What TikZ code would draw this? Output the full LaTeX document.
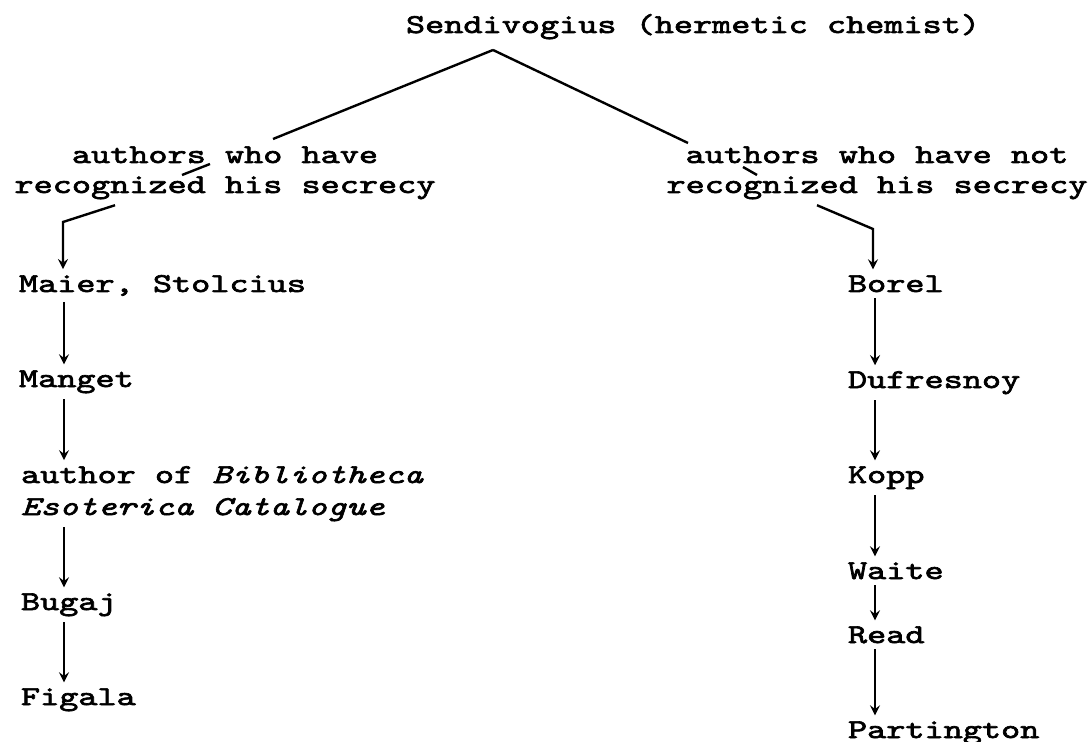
\documentclass[tikz,border=0pt]{standalone}
\usepackage{fontspec}
\setmainfont{lmmono10-regular}[Extension=.otf,ItalicFont=lmmono10-italic,FakeStretch=1.34,FakeBold=2.5]
\usepackage{tikz}

\tikzset{
  author/.style={inner sep=0pt,outer sep=3pt,anchor=base west,
    font=\fontsize{13.6}{16}\selectfont},
  group/.style={inner sep=0pt,outer sep=3pt,align=center,anchor=base,
    font=\fontsize{13.6}{15}\selectfont},
}

\begin{document}
\begin{tikzpicture}[>=stealth,x=0.5pt,y=-0.5pt,line width=1.2pt]
  \useasboundingbox (0,0) rectangle (1090,742);

  \coordinate (apex) at (493,50);
  \coordinate (A) at (273,139);
  \coordinate (B) at (210,164);
  \coordinate (C) at (182,175);
  \coordinate (D) at (688,143);
  \coordinate (E) at (743,167);
  \coordinate (F) at (757,175);
  \coordinate (lfoot) at (115,0);
  \coordinate (rfoot) at (817,0);
  \coordinate (lbend) at (63,222);
  \coordinate (rbend) at (873,229);
  \coordinate (lcol) at (64,0);
  \coordinate (rcol) at (875,0);

  % Top
  \node[author] (sendivogius) at (400,33) {Sendivogius (hermetic chemist)};
  \node[group] (leftlbl) at (225,193) {authors who have\\recognized his secrecy};
  \node[group] (rightlbl) at (877,193) {authors who have not\\recognized his secrecy};

  % Left column
  \node[author] (maier) at (13,292) {Maier, Stolcius};
  \node[author] (manget) at (13,387) {Manget};
  \node[author,align=left] (bibl) at (15,515) {author of \textit{Bibliotheca}\\\textit{Esoterica Catalogue}};
  \node[author] (bugaj) at (15,610) {Bugaj};
  \node[author] (figala) at (15,705) {Figala};

  % Right column
  \node[author] (borel) at (842,292) {Borel};
  \node[author] (dufresnoy) at (842,388) {Dufresnoy};
  \node[author] (kopp) at (842,483) {Kopp};
  \node[author] (waite) at (842,579) {Waite};
  \node[author] (read) at (842,643) {Read};
  \node[author] (partington) at (842,738) {Partington};

  % Branches
  \draw (apex) -- (A) (B) -- (C);
  \draw (apex) -- (D) (E) -- (F);
  \draw[->] (leftlbl.south -| lfoot) -- (lbend) -- (maier.north -| lbend);
  \draw[->] (rightlbl.south -| rfoot) -- (rbend) -- (borel.north -| rbend);

  \foreach \a/\b in {maier/manget,manget/bibl,bibl/bugaj,bugaj/figala}
    \draw[->] (\a.south -| lcol) -- (\b.north -| lcol);
  \foreach \a/\b in {borel/dufresnoy,dufresnoy/kopp,kopp/waite,waite/read,read/partington}
    \draw[->] (\a.south -| rcol) -- (\b.north -| rcol);
\end{tikzpicture}
\end{document}
